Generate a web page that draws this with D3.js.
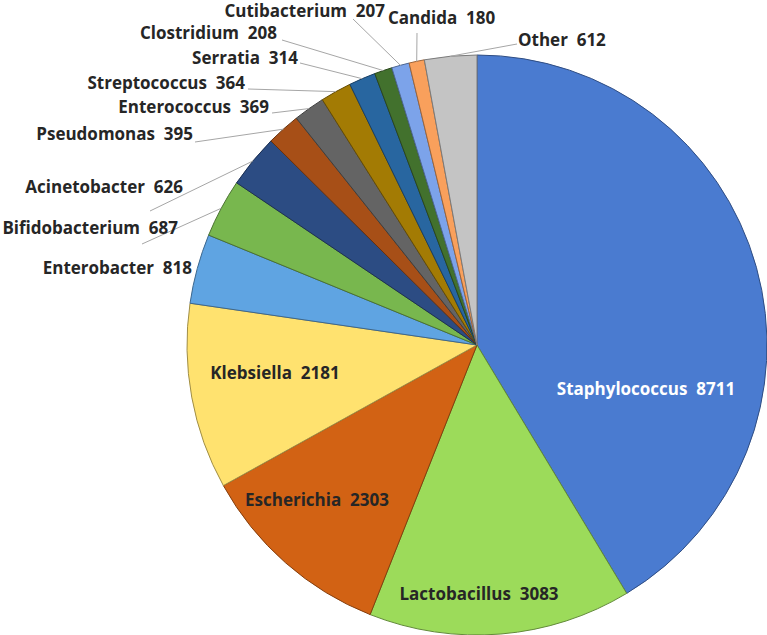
<!DOCTYPE html>
<html>
<head>
<meta charset="utf-8">
<script src="https://cdn.jsdelivr.net/npm/d3@7"></script>
<style>
  body { margin: 0; background: #fff; }
  text { font-family: "Open Sans", "Noto Sans", sans-serif; font-weight: bold; font-size: 17px; white-space: pre; }
</style>
</head>
<body>
<div id="chart-area"></div>
<script>
// data
var genera = ["Staphylococcus", "Lactobacillus", "Escherichia", "Klebsiella", "Enterobacter",
    "Bifidobacterium", "Acinetobacter", "Pseudomonas", "Enterococcus", "Streptococcus",
    "Serratia", "Clostridium", "Cutibacterium", "Candida", "Other"];
var counts = [8711, 3083, 2303, 2181, 818, 687, 626, 395, 369, 364, 314, 208, 207, 180, 612];

var colors = ["#4a7bd0", "#9cdb5a", "#d26214", "#ffe26f", "#5fa4e2", "#78b74e", "#2c4c83",
    "#a74f17", "#646464", "#a37b04", "#2866a0", "#42712d", "#7ca3ea", "#f9a05c", "#c4c4c4"];

// label layout (x, y of text, anchor, leader start)
var labelLayout = [
    { x: 646, y: 389, anchor: "middle", fill: "#fff" },
    { x: 479, y: 594, anchor: "middle" },
    { x: 317, y: 500, anchor: "middle" },
    { x: 275, y: 373, anchor: "middle" },
    { x: 192, y: 268, anchor: "end" },
    { x: 178, y: 228, anchor: "end", lx: 142, ly: 244 },
    { x: 183, y: 187, anchor: "end", lx: 150, ly: 211 },
    { x: 193, y: 134, anchor: "end", lx: 195, ly: 142 },
    { x: 269, y: 107, anchor: "end", lx: 272, ly: 113 },
    { x: 245, y: 83, anchor: "end", lx: 248, ly: 89 },
    { x: 298, y: 58, anchor: "end", lx: 300, ly: 63 },
    { x: 277, y: 33, anchor: "end", lx: 282, ly: 40 },
    { x: 385, y: 11, anchor: "end", lx: 353, ly: 19 },
    { x: 388, y: 18, anchor: "start", lx: 417, ly: 33 },
    { x: 518, y: 40, anchor: "start", lx: 517, ly: 44 }
];

var width = 767,
    height = 635;

var cx = 477,
    cy = 345,
    radius = 290;

var svg = d3.select("#chart-area").append("svg")
    .attr("width", width)
    .attr("height", height);

var data = genera.map(function(g, i) {
    return { name: g, value: counts[i], color: colors[i], layout: labelLayout[i] };
});

var pie = d3.pie()
    .sort(null)
    .value(function(d) { return d.value; });

var arc = d3.arc()
    .innerRadius(0)
    .outerRadius(radius);

var arcs = pie(data);

var g = svg.append("g")
    .attr("transform", "translate(" + cx + "," + cy + ")");

// slices
g.selectAll("path.slice")
    .data(arcs)
    .enter()
    .append("path")
    .attr("class", "slice")
    .attr("d", arc)
    .attr("fill", function(d) { return d.data.color; })
    .attr("stroke", function(d) { return d3.color(d.data.color).darker(1.3); })
    .attr("stroke-width", 1)
    .attr("stroke-linejoin", "round");

// leader lines
svg.selectAll("line.leader")
    .data(arcs.filter(function(d) { return d.data.layout.lx != null; }))
    .enter()
    .append("line")
    .attr("class", "leader")
    .attr("x1", function(d) { return d.data.layout.lx; })
    .attr("y1", function(d) { return d.data.layout.ly; })
    .attr("x2", function(d) {
        var a = (d.startAngle + d.endAngle) / 2;
        return cx + radius * Math.sin(a);
    })
    .attr("y2", function(d) {
        var a = (d.startAngle + d.endAngle) / 2;
        return cy - radius * Math.cos(a);
    })
    .attr("stroke", "#a6a6a6")
    .attr("stroke-width", 1);

// labels
svg.selectAll("text.label")
    .data(arcs)
    .enter()
    .append("text")
    .attr("class", "label")
    .attr("x", function(d) { return d.data.layout.x; })
    .attr("y", function(d) { return d.data.layout.y; })
    .attr("dy", "0.35em")
    .attr("text-anchor", function(d) { return d.data.layout.anchor; })
    .attr("fill", function(d) { return d.data.layout.fill || "#262626"; })
    .text(function(d) { return d.data.name + "\u00a0 " + d.data.value; });
</script>
</body>
</html>
